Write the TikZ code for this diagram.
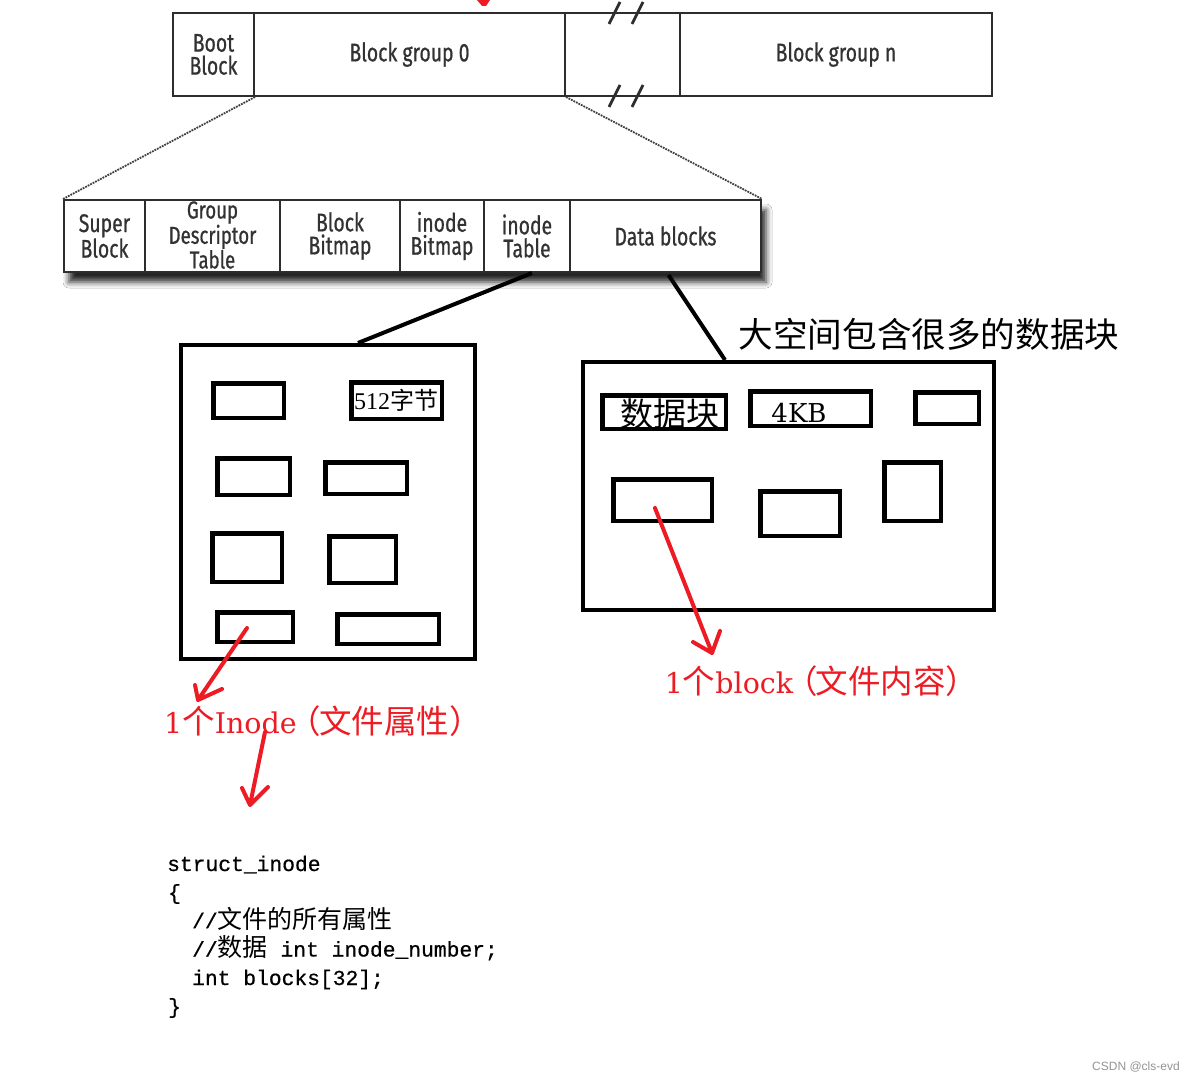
\documentclass[tikz,border=0pt]{standalone}
\usepackage{fontspec}
\setmainfont{Liberation Serif}
\newfontfamily\cjk{Noto Sans CJK SC}
\newfontfamily\cond[FakeStretch=0.76,FakeBold=0.7]{Fira Sans}
\newfontfamily\monof[FakeBold=0.6]{Liberation Mono}
\newfontfamily\latinser{DejaVu Serif}
\newfontfamily\wmfont{Liberation Sans}
\usetikzlibrary{calc,shadows.blur}
\definecolor{paintred}{RGB}{237,28,36}
\definecolor{bargray}{RGB}{45,45,45}
\definecolor{bartext}{RGB}{50,50,50}
\newcommand{\redlat}[1]{{\latinser\fontsize{28.5}{28.5}\selectfont #1}}
\newcommand{\lpar}{\hspace{-8pt}（\hspace{-2pt}}
\newcommand{\rpar}{）}
\begin{document}
\begin{tikzpicture}[x=1pt,y=-1pt,
  cell/.style={draw=bargray, line width=2pt, inner sep=0pt, minimum height=83pt,
    font=\cond\fontsize{25.5}{23}\selectfont, text=bartext, align=center},
  cellb/.style={cell, minimum height=72pt},
  bigbox/.style={draw=black, line width=4pt, inner sep=0pt},
  smallbox/.style={draw=black, line width=4.5pt, inner sep=0pt},
  link/.style={line width=4pt, black},
  zoomline/.style={densely dotted, line width=1.8pt, black!75},
  slash/.style={line width=2.8pt, bargray},
  redarrow/.style={paintred, line width=4pt, line cap=round, line join=round},
  redlabel/.style={text=paintred, inner sep=0pt, font=\cjk\fontsize{32.5}{32.5}\selectfont},
  codeline/.style={anchor=base west, inner sep=0pt, font=\monof\fontsize{21.3}{25}\selectfont},
  boxtext/.style={inner sep=0pt}
]
\fill[white] (0,0) rectangle (1195,1081);
\useasboundingbox (0,0) rectangle (1195,1081);

% red tip cut off at the top
\fill[paintred] (477,0) -- (490,0) -- (486,6) -- (482,6) -- cycle;

% ---- top bar
\node[cell, minimum width=81pt] (boot) at (213.5,54.5) {Boot\\Block};
\node[cell, minimum width=311pt] (bg0) at (409.5,54.5) {Block group 0};
\node[cell, minimum width=115pt] (gap) at (622.5,54.5) {};
\node[cell, minimum width=312pt] (bgn) at (836,54.5) {Block group n};
\draw[slash] (609,24) -- (620,2);
\draw[slash] (632,24) -- (643,2);
\draw[slash] (609,107) -- (620,85);
\draw[slash] (632,107) -- (643,85);

% ---- second bar with shadow
\path[fill=white, blur shadow={shadow xshift=5pt, shadow yshift=-10pt, shadow blur radius=6pt, shadow opacity=85}]
  (64,200) rectangle (761,272);
\node[cellb, minimum width=81pt] (super) at (104.5,236) {Super\\Block};
\node[cellb, minimum width=135pt] (gdt) at (212.5,236) {};
\node[inner sep=0pt, align=center, text=bartext, font=\cond\fontsize{24.5}{21}\selectfont] (gdttext) at (212.5,235) {Group\\Descriptor\\Table};
\node[cellb, minimum width=120pt] (bbm) at (340,236) {Block\\Bitmap};
\node[cellb, minimum width=84pt] (ibm) at (442,236) {inode\\Bitmap};
\node[cellb, minimum width=86pt] (itab) at (527,236) {inode\\Table};
\node[cellb, minimum width=191pt] (data) at (665.5,236) {Data blocks};

% zoom lines
\draw[zoomline] (boot.south east) -- (super.north west);
\draw[zoomline] (bg0.south east) -- (data.north east);

% ---- left big box (inode table)
\node[bigbox, minimum width=294pt, minimum height=314pt] (ibox) at (328,502) {};
\node[smallbox, minimum width=70.5pt, minimum height=34.5pt] (ib1) at (248.5,400.5) {};
\node[smallbox, minimum width=90.5pt, minimum height=36.5pt] (ib2) at (396.5,400.5) {};
\node[boxtext, font=\cjk\fontsize{24}{24}\selectfont] (t512) at (396,400) {{\rmfamily\fontsize{24}{24}\selectfont 512}字节};
\node[smallbox, minimum width=72.5pt, minimum height=36.5pt] (ib3) at (253.5,476.5) {};
\node[smallbox, minimum width=81.5pt, minimum height=31.5pt] (ib4) at (366,478) {};
\node[smallbox, minimum width=69.5pt, minimum height=48.5pt] (ib5) at (247,557.5) {};
\node[smallbox, minimum width=66.5pt, minimum height=46.5pt] (ib6) at (362.5,559.5) {};
\node[smallbox, minimum width=75.5pt, minimum height=29.5pt] (ib7) at (255,627) {};
\node[smallbox, minimum width=101.5pt, minimum height=29.5pt] (ib8) at (388,629) {};

% ---- right big box (data blocks)
\node[bigbox, minimum width=411pt, minimum height=248pt] (dbox) at (788.5,486) {};
\node[smallbox, minimum width=123.5pt, minimum height=33.5pt] (rba) at (664,412) {};
\node[boxtext, font=\cjk\fontsize{33}{33}\selectfont] (tdata) at (670,414) {数据块};
\node[smallbox, minimum width=120.5pt, minimum height=34.5pt] (rbb) at (810.5,408.5) {};
\node[boxtext, font=\latinser\fontsize{26}{26}\selectfont] (t4kb) at (799,413) {4KB};
\node[smallbox, minimum width=63.5pt, minimum height=31.5pt] (rbc) at (947,408) {};
\node[smallbox, minimum width=98.5pt, minimum height=41.5pt] (rbd) at (662.5,500) {};
\node[smallbox, minimum width=79.5pt, minimum height=44.5pt] (rbe) at (800,513.5) {};
\node[smallbox, minimum width=56.5pt, minimum height=58.5pt] (rbf) at (912.5,491.5) {};

\node[inner sep=0pt, font=\cjk\fontsize{34.6}{35}\selectfont] (bigspace) at (929,334) {大空间包含很多的数据块};

% black links
\draw[link] ($(itab.south)+(5,0)$) -- ($(ibox.north west)+(179,0)$);
\draw[link] ($(data.south)+(3,2)$) -- ($(dbox.north west)+(144,0)$);

% ---- red labels
\node[redlabel] (inodelbl) at (323,721.5) {\redlat{1}个\redlat{Inode}\lpar 文件属性\rpar};
\node[redlabel] (blocklbl) at (821.5,681.5) {\redlat{1}个\redlat{block}\lpar 文件内容\rpar};

% ---- code
\node[codeline] (code1) at (167,871) {struct\_inode};
\node[codeline] (code2) at (168,899.5) {\{};
\node[codeline] (code3) at (192,928) {//{\cjk\fontsize{25}{25}\selectfont 文件的所有属性}};
\node[codeline] (code4) at (192,956.5) {//{\cjk\fontsize{25}{25}\selectfont 数据} int inode\_number;};
\node[codeline] (code5) at (192,985) {int blocks[32];};
\node[codeline] (code6) at (168,1013.5) {\}};

% ---- red arrows
\coordinate (tipA) at ($(inodelbl.center)+(-125,-21.5)$);
\draw[redarrow] ($(ib7.center)+(-8,1)$) -- (tipA) ++(-3,-15) -- (tipA) -- ++(24,-11);
\coordinate (tipB) at ($(code1.base west)+(83,-66)$);
\draw[redarrow] ($(inodelbl.center)+(-58,10.5)$) -- (tipB) ++(-8,-17) -- (tipB) -- ++(18,-18);
\coordinate (tipC) at ($(blocklbl.center)+(-109.5,-28.5)$);
\draw[redarrow] ($(rbd.center)+(-7.5,8)$) -- (tipC) ++(-19,-11) -- (tipC) -- ++(8,-22);

% watermark
\node[inner sep=0pt, text=black!42, font=\wmfont\fontsize{12}{12}\selectfont] (wm) at (1136,1067) {CSDN @cls-evd};
\end{tikzpicture}
\end{document}
